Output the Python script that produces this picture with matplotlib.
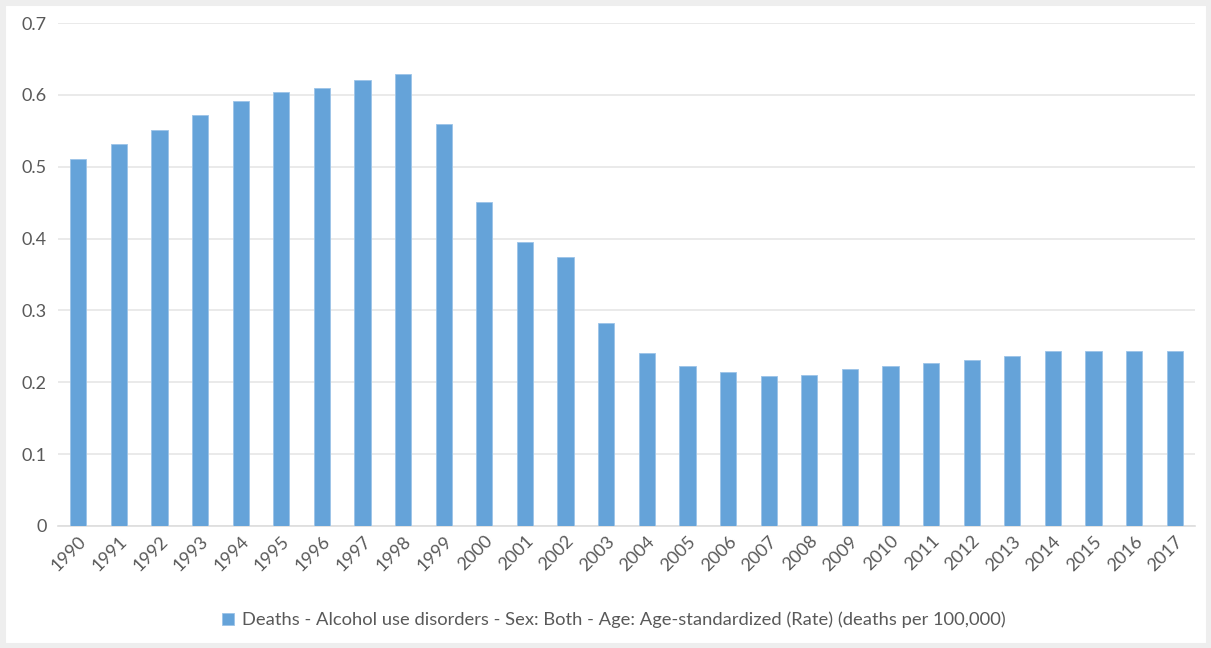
import matplotlib
matplotlib.use("Agg")
import matplotlib.pyplot as plt
from matplotlib.patches import Rectangle

years = [str(y) for y in range(1990, 2018)]
values = [0.511, 0.532, 0.551, 0.572, 0.591, 0.604, 0.610, 0.621, 0.629, 0.559,
          0.451, 0.395, 0.374, 0.282, 0.241, 0.222, 0.214, 0.209, 0.210, 0.218,
          0.223, 0.227, 0.231, 0.237, 0.244, 0.244, 0.244, 0.244]
yticks = [0, 0.1, 0.2, 0.3, 0.4, 0.5, 0.6, 0.7]
ytick_labels = ["0", "0.1", "0.2", "0.3", "0.4", "0.5", "0.6", "0.7"]
series_label = "Deaths - Alcohol use disorders - Sex: Both - Age: Age-standardized (Rate) (deaths per 100,000)"

plt.rcParams['font.family'] = ['Lato', 'DejaVu Sans']
W, H = 1211, 648
fig = plt.figure(figsize=(W / 100, H / 100), dpi=100, facecolor='white')
# outer gray frame
fig.patches.append(Rectangle((0, 0), 1, 1, transform=fig.transFigure,
                             facecolor='none', edgecolor='#eeeeee', linewidth=8, zorder=0))

ax = fig.add_axes([58 / W, 1 - 526 / H, (1195 - 58) / W, (526 - 23) / H])
color = '#65a3d9'
x = list(range(len(years)))
ax.bar(x, values, width=0.4, color=color, edgecolor='#9cc4e8', linewidth=0.6,
       label=series_label, zorder=3)
ax.set_xlim(-0.5, len(years) - 0.5)
ax.set_ylim(0, 0.7)
ax.set_yticks(yticks)
ax.set_yticklabels(ytick_labels)
ax.set_xticks(x)
ax.set_xticklabels(years, rotation=45, ha='right', rotation_mode='anchor')
ax.yaxis.grid(True, color='#e6e6e6', linewidth=1.2, zorder=0)
ax.set_axisbelow(True)
for s in ['top', 'right', 'left']:
    ax.spines[s].set_visible(False)
ax.spines['bottom'].set_color('#dddddd')
ax.spines['bottom'].set_linewidth(1.2)
ax.tick_params(axis='both', length=0, colors='#595959', labelsize=13)
ax.tick_params(axis='y', pad=8)
ax.tick_params(axis='x', pad=5)

handles, labels = ax.get_legend_handles_labels()
fig.legend(handles, labels, loc='center', bbox_to_anchor=(614 / W, 1 - 620 / H),
           frameon=False, fontsize=13.2, labelcolor='#595959',
           handlelength=0.65, handleheight=0.65, handletextpad=0.4)

fig.savefig('out.png', dpi=100, facecolor='white')
